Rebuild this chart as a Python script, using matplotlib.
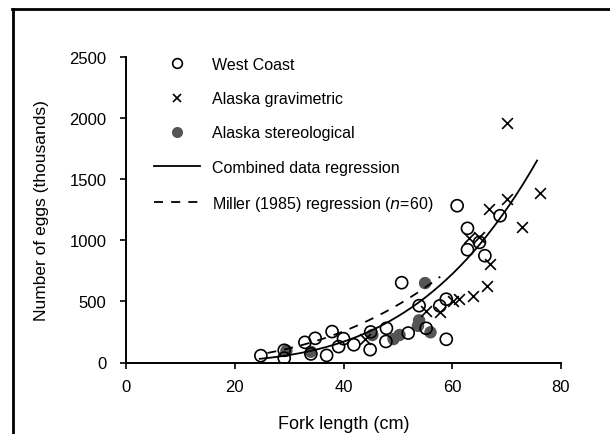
import numpy as np
import matplotlib
matplotlib.use("Agg")
import matplotlib.pyplot as plt
from matplotlib.lines import Line2D

plt.rcParams['font.family'] = ['Liberation Sans', 'DejaVu Sans']

# West Coast (open circles)
wc_x = [24.8, 29.1, 29.1, 32.9, 34.8, 34.0, 36.9, 37.9, 40.0, 39.1, 41.9, 44.9, 45.0,
        47.9, 47.8, 51.9, 50.7, 53.9, 55.2, 58.9, 57.7, 58.9, 60.9, 62.8, 62.8, 65.0,
        66.0, 68.8]
wc_y = [56, 100, 36, 165, 198, 70, 58, 253, 195, 130, 145, 105, 250,
        280, 172, 241, 653, 465, 280, 190, 463, 518, 1283, 1098, 923, 983,
        874, 1201]

# Alaska gravimetric (crosses)
ag_x = [44.0, 55.2, 57.8, 60.1, 61.3, 63.9, 66.3, 66.9, 63.1, 65.0, 66.8, 70.0,
        70.0, 72.9, 76.1]
ag_y = [192, 424, 416, 500, 520, 545, 626, 810, 1020, 1024, 1256, 1338,
        1957, 1108, 1387]

# Alaska stereological (filled grey circles)
as_x = [29.5, 34.0, 45.3, 49.2, 50.3, 53.9, 53.7, 56.0, 55.0]
as_y = [97, 88, 225, 192, 225, 345, 300, 247, 650]

# Regression parameters (power law y = a * x^b, y in thousands)
comb_a, comb_b, comb_range = 3.25e-4, 3.57, (24.6, 75.6)
mill_a, mill_b, mill_range = 0.01003, 2.75, (26.0, 57.8)

xticks = [0, 20, 40, 60, 80]
yticks = [0, 500, 1000, 1500, 2000, 2500]

fig = plt.figure(figsize=(6.10, 4.35), dpi=100)
ax = fig.add_axes([126/610, 1 - 363.5/435, (561-126)/610, (363.5-58)/435])

xc = np.linspace(*comb_range, 200)
ax.plot(xc, comb_a * xc**comb_b, color='black', lw=1.3, zorder=3)
xm = np.linspace(*mill_range, 200)
ax.plot(xm, mill_a * xm**mill_b, color='black', lw=1.3, ls=(0, (5, 4.5)), zorder=3)

ax.scatter(as_x, as_y, s=80, color='#555555', edgecolors='none', zorder=2)
ax.scatter(wc_x, wc_y, s=75, facecolors='none', edgecolors='black', linewidths=1.2, zorder=4)
ax.scatter(ag_x, ag_y, s=60, marker='x', color='black', linewidths=1.2, zorder=4)

ax.set_xlim(0, 80)
ax.set_ylim(0, 2500)
ax.set_xticks(xticks)
ax.set_yticks(yticks)
ax.tick_params(labelsize=12, direction='out', length=4, width=1.2)
ax.tick_params(axis='x', pad=8)
ax.tick_params(axis='y', pad=10)
for s in ['top', 'right']:
    ax.spines[s].set_visible(False)
for s in ['left', 'bottom']:
    ax.spines[s].set_linewidth(1.4)
ax.set_xlabel('Fork length (cm)', fontsize=13, labelpad=15)
ax.set_ylabel('Number of eggs (thousands)', fontsize=12.5, labelpad=15)

handles = [
    Line2D([], [], marker='o', ls='none', mfc='none', mec='black', ms=7, mew=1.2),
    Line2D([], [], marker='x', ls='none', color='black', ms=6, mew=1.2),
    Line2D([], [], marker='o', ls='none', mfc='#555555', mec='none', ms=8),
    Line2D([], [], color='black', lw=1.3),
    Line2D([], [], color='black', lw=1.3, ls=(0, (5, 4.5))),
]
labels = ['West Coast', 'Alaska gravimetric', 'Alaska stereological',
          'Combined data regression', 'Miller (1985) regression ($n$=60)']
leg = fig.legend(handles, labels, loc='upper left',
                 bbox_to_anchor=(154/610, 1 - 58/435), frameon=False,
                 fontsize=11.5, labelspacing=1.2, handlelength=2.85,
                 handletextpad=0.75, borderpad=0, borderaxespad=0)

# outer frame (top and left edges)
fig.add_artist(Line2D([12/610, 1], [1 - 10/435, 1 - 10/435], color='black', lw=2,
                      transform=fig.transFigure))
fig.add_artist(Line2D([13/610, 13/610], [0, 1 - 10/435], color='black', lw=2,
                      transform=fig.transFigure))

fig.savefig('out.png', dpi=100)
